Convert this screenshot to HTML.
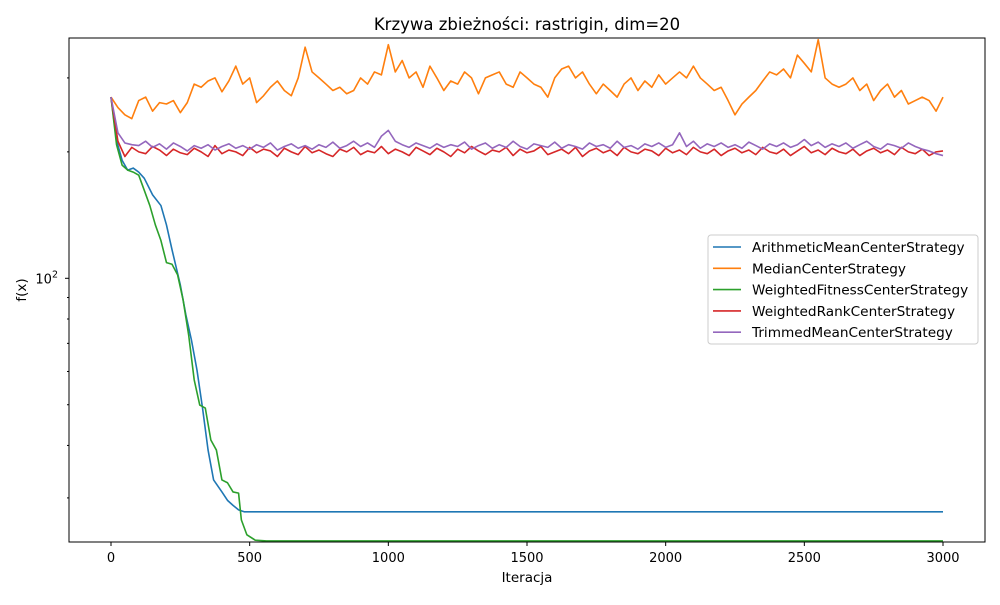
<!DOCTYPE html>
<html><head><meta charset="utf-8"><style>
body{margin:0;background:#fff}
svg text{font-family:"DejaVu Sans","Liberation Sans",sans-serif;fill:#000}
</style></head><body>
<svg id="c" width="1000" height="600" xmlns="http://www.w3.org/2000/svg">
<rect width="1000" height="600" fill="#fff"/>
<text x="527" y="30" font-size="16.5" text-anchor="middle">Krzywa zbieżności: rastrigin, dim=20</text>
<g id="plot"></g>
<rect x="69" y="38" width="916" height="504" fill="none" stroke="#000" stroke-width="1"/>
<text x="527" y="582" font-size="13.5" text-anchor="middle">Iteracja</text>
<text x="26" y="290" font-size="13.5" text-anchor="middle" transform="rotate(-90 26 290)">f(x)</text>
<g id="legend"></g>
</svg>
<script>
const xTicks=[0,500,1000,1500,2000,2500,3000];
const yMinorTicks=[30,40,50,60,70,80,90,200,300];
const yMajorTicks=[100];
const seriesNames=["ArithmeticMeanCenterStrategy","MedianCenterStrategy","WeightedFitnessCenterStrategy","WeightedRankCenterStrategy","TrimmedMeanCenterStrategy"];
const colors=["#1f77b4","#ff7f0e","#2ca02c","#d62728","#9467bd"];
const blueIters=[0,20,40,60,80,100,120,150,180,200,220,250,270,290,310,330,350,370,400,420,440,460,480,3000];
const blueVals=[270,213,191,181,183,179,173,158,149,134,117,96.4,81.8,71.3,60.5,49.1,39.0,33.1,31.0,29.6,28.8,28.1,27.8,27.8];
const greenIters=[0,20,40,60,80,100,120,140,160,180,200,220,240,260,280,300,320,340,360,380,400,420,440,460,470,490,520,560,3000];
const greenVals=[270,208,186,181,179,176,162,149,134,123,109,108,102,88.8,73.3,57.3,49.9,49.1,41.2,39.0,33.1,32.6,31.0,30.8,26.6,24.5,23.8,23.7,23.7];
const noisyStep=25;
const orangeVals=[270,255,245,240,265,270,250,262,260,265,248,262,290,285,295,300,278,295,320,290,300,262,272,285,295,280,272,300,355,310,300,290,280,285,275,280,300,290,310,305,360,310,330,300,310,285,320,300,280,295,290,310,300,275,300,305,310,290,285,310,300,290,285,270,300,315,320,300,310,290,275,290,280,270,290,300,280,295,285,305,290,300,310,300,320,300,290,280,285,265,245,260,270,280,295,310,305,315,300,340,325,310,370,300,290,285,290,300,280,290,265,280,290,270,280,260,265,270,265,250,270];
const redVals=[270,212,195,205,200,198,206,202,196,203,199,197,204,200,195,207,198,202,200,196,205,199,203,201,195,204,200,197,206,199,202,198,195,203,200,205,197,201,199,206,198,203,200,196,205,201,197,204,200,195,203,199,206,201,197,202,200,205,196,203,199,201,206,197,200,203,198,205,195,201,204,199,202,196,205,200,198,203,201,196,204,199,202,197,205,200,198,203,196,201,204,199,202,197,205,200,198,203,196,201,206,199,202,197,204,200,198,203,196,201,204,199,202,197,205,200,198,203,196,200,201];
const purpleVals=[270,222,210,208,207,212,205,209,203,210,206,201,207,204,208,202,206,209,204,207,203,208,205,210,202,206,209,204,207,203,208,205,211,204,207,212,206,210,205,218,225,212,208,205,210,207,204,209,205,208,206,211,203,207,210,204,208,205,212,206,203,209,207,205,211,204,208,206,203,210,206,208,204,212,205,207,203,209,206,210,205,208,222,206,212,204,209,206,210,205,208,204,211,207,203,209,206,210,205,208,214,207,211,205,209,206,210,204,208,212,206,203,209,207,204,210,206,203,201,198,196];
const X=v=>111+v*(832/3000);
const Y=v=>278.3-420*Math.log10(v/100);
const NS="http://www.w3.org/2000/svg";
const plot=document.getElementById('plot');
function mk(tag,attrs,parent){const e=document.createElementNS(NS,tag);for(const k in attrs)e.setAttribute(k,attrs[k]);parent.appendChild(e);return e;}
xTicks.forEach(t=>{
  const l=mk('line',{x1:X(t),x2:X(t),y1:542,y2:546,stroke:'#000'},plot);
  
  
  const tx=mk('text',{x:X(t),y:562,'font-size':13,'text-anchor':'middle'},plot);
  tx.textContent=t;
  
  
});
yMinorTicks.forEach(t=>{
  const l=mk('line',{x1:67,x2:69,y1:Y(t),y2:Y(t),stroke:'#000'},plot);
  
  
});
yMajorTicks.forEach(t=>{
  const l=mk('line',{x1:65,x2:69,y1:Y(t),y2:Y(t),stroke:'#000'},plot);
  
  
  const tx=mk('text',{x:58,y:Y(t)+5,'font-size':13,'text-anchor':'end'},plot);
  tx.innerHTML='10<tspan dy="-6" font-size="9.5">2</tspan>';
  
  
});
function drawLine(iters,vals,color,name){
  const d=vals.map((v,i)=>(i?'L':'M')+X(iters[i]).toFixed(2)+' '+Y(v).toFixed(2)).join(' ');
  const p=mk('path',{d:d,fill:'none',stroke:color,'stroke-width':1.6,'stroke-linejoin':'round'},plot);
  
  
}
const noisyIters=n=>Array.from({length:n},(_,i)=>i*noisyStep);
drawLine(noisyIters(orangeVals.length),orangeVals,colors[1],'median-center-line');
drawLine(blueIters,blueVals,colors[0],'arithmetic-mean-center-line');
drawLine(greenIters,greenVals,colors[2],'weighted-fitness-center-line');
drawLine(noisyIters(redVals.length),redVals,colors[3],'weighted-rank-center-line');
drawLine(noisyIters(purpleVals.length),purpleVals,colors[4],'trimmed-mean-center-line');
const lg=document.getElementById('legend');
const box=mk('rect',{x:708,y:235,width:270,height:109,rx:3,fill:'#fff','fill-opacity':0.8,stroke:'#ccc'},lg);


seriesNames.forEach((n,i)=>{
  const y=247+i*21.3;
  const l=mk('line',{x1:713,x2:741,y1:y,y2:y,stroke:colors[i],'stroke-width':1.6},lg);
  
  
  const t=mk('text',{x:752,y:y+5,'font-size':13.65},lg);
  t.textContent=n;
  
  
});
</script>
</body></html>
